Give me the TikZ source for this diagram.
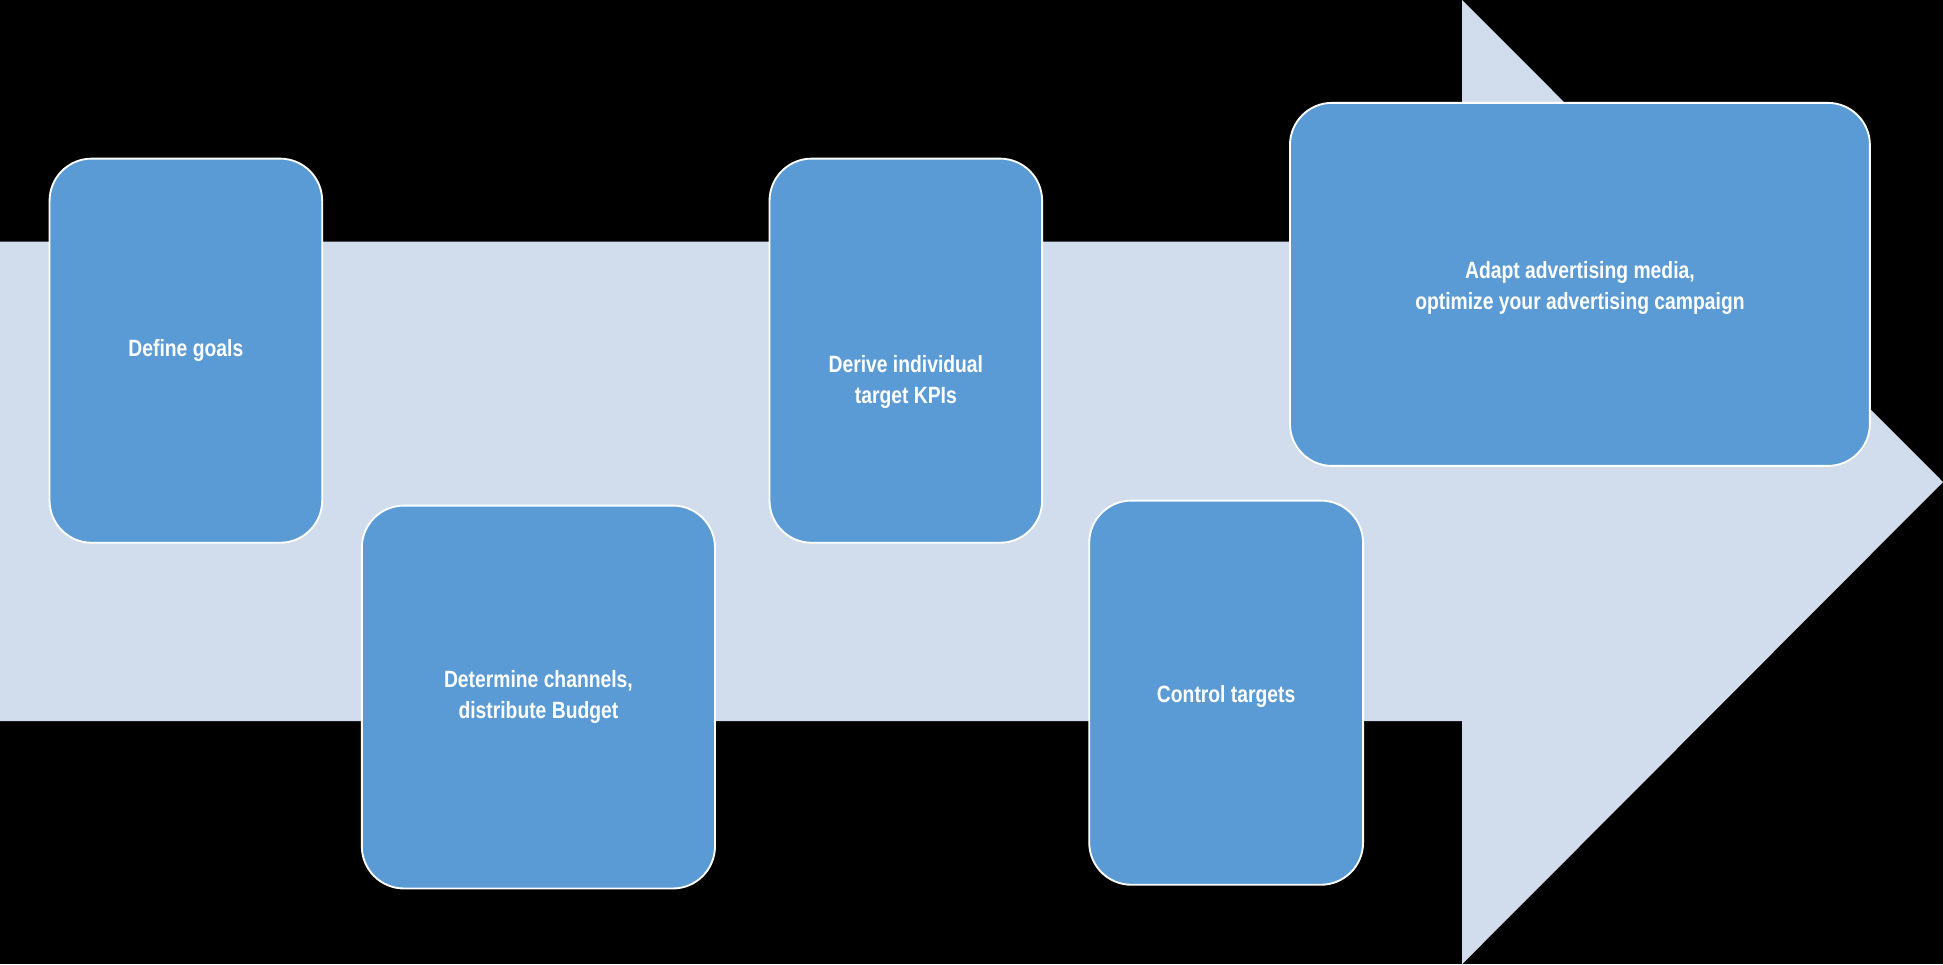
\documentclass[tikz,border=0pt]{standalone}
\usepackage{fontspec}
\setmainfont{Liberation Sans}[FakeStretch=0.82]
\begin{document}
\begin{tikzpicture}[x=1pt,y=-1pt,
  stepbox/.style={draw=white,line width=1.5pt,fill=boxblue,rounded corners=34pt,
    text=white,font=\fontsize{19}{25}\selectfont\bfseries,align=center}]
\definecolor{boxblue}{HTML}{5B9BD5}
\definecolor{arrowbg}{HTML}{D1DDEC}
\fill[black] (0,0) rectangle (1568,778);
\useasboundingbox (0,0) rectangle (1568,778);
\fill[arrowbg] (0,195) -- (1180,195) -- (1180,0) -- (1568,389) -- (1180,778) -- (1180,582) -- (0,582) -- cycle;
\draw[stepbox] (40,128) rectangle (260,438) node[midway] (a) {Define goals};
\draw[stepbox] (292,408) rectangle (577,717) node[midway] (b) {Determine channels,\\distribute Budget};
\draw[stepbox] (621,128) rectangle (841,438) node[midway,yshift=-25pt] (c) {Derive individual\\target KPIs};
\draw[stepbox] (879,404) rectangle (1100,714) node[midway,yshift=-3pt] (d) {Control targets};
\draw[stepbox] (1041,83) rectangle (1509,376) node[midway,yshift=-3pt] (e) {Adapt advertising media,\\optimize your advertising campaign};
\end{tikzpicture}
\end{document}
